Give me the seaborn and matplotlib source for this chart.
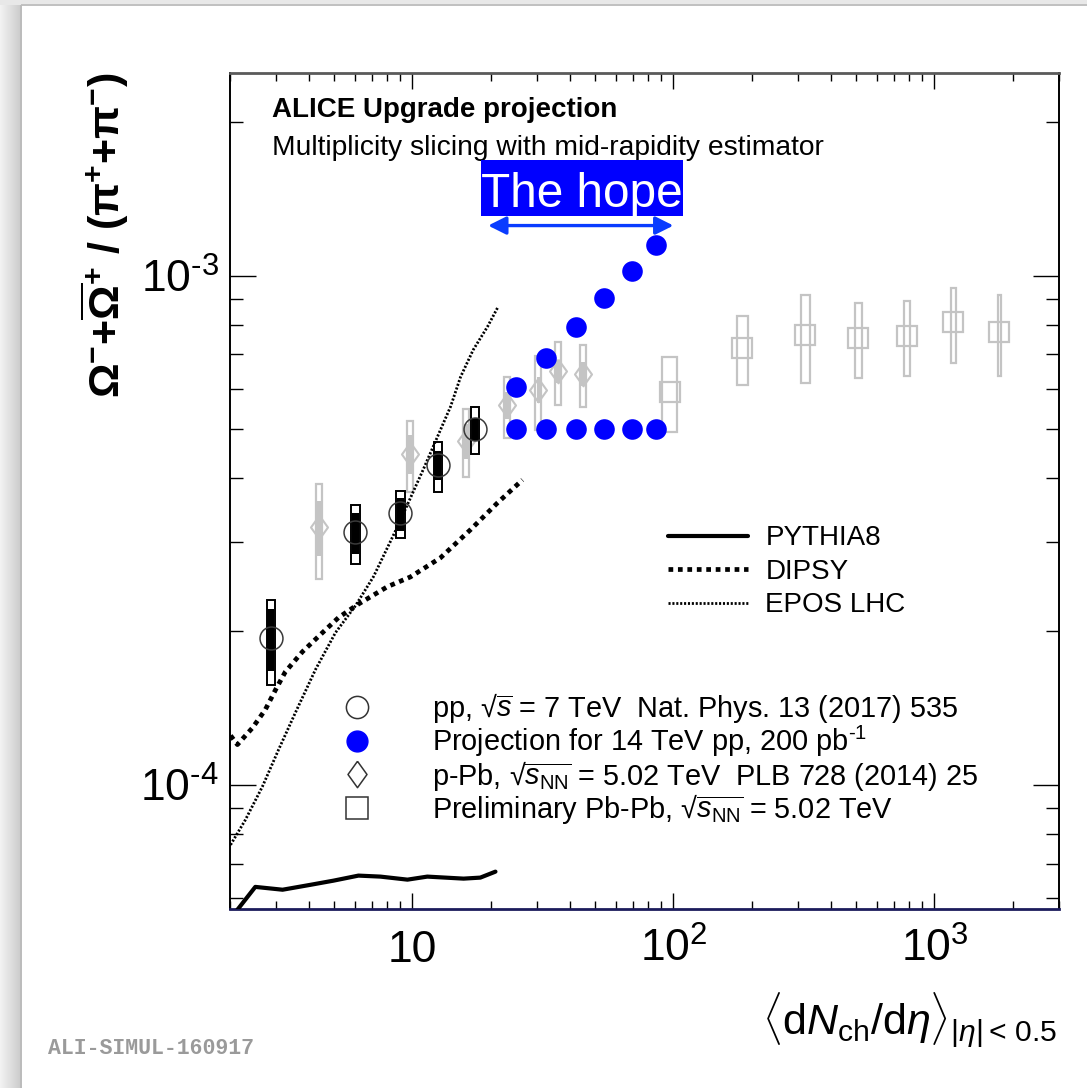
import numpy as np
import matplotlib
matplotlib.use("Agg")
import matplotlib.pyplot as plt
import matplotlib.transforms as mtransforms
from matplotlib.lines import Line2D
from matplotlib.patches import Rectangle
from matplotlib.ticker import LogLocator, NullFormatter
import seaborn as sns

# ---------------- data ----------------
# pp, sqrt(s) = 7 TeV (Nat. Phys. 13 (2017) 535)
pp_x = [2.86, 6.05, 9.0, 12.5, 17.4]
pp_y = [1.94e-4, 3.13e-4, 3.41e-4, 4.24e-4, 5.0e-4]
pp_stat = [0.27e-4, 0.29e-4, 0.255e-4, 0.275e-4, 0.26e-4]
pp_sys = [0.37e-4, 0.42e-4, 0.36e-4, 0.48e-4, 0.53e-4]

# p-Pb, sqrt(s_NN) = 5.02 TeV (PLB 728 (2014) 25)
ppb_x = [4.40, 9.8, 16.1, 23.1, 30.4, 36.2, 45.2]
ppb_y = [3.21e-4, 4.47e-4, 4.74e-4, 5.56e-4, 5.97e-4, 6.50e-4, 6.42e-4]
ppb_stat = [0.40e-4, 0.40e-4, 0.38e-4, 0.34e-4, 0.34e-4, 0.34e-4, 0.35e-4]
ppb_sys = [0.68e-4, 0.72e-4, 0.72e-4, 0.77e-4, 0.99e-4, 0.92e-4, 0.90e-4]

# Preliminary Pb-Pb, sqrt(s_NN) = 5.02 TeV
pbpb_x = [96.6, 183.6, 320.6, 511.0, 788.0, 1183.0, 1775.0]
pbpb_y = [5.92e-4, 7.22e-4, 7.66e-4, 7.55e-4, 7.62e-4, 8.09e-4, 7.76e-4]
pbpb_sys = [1.00e-4, 1.12e-4, 1.52e-4, 1.27e-4, 1.28e-4, 1.37e-4, 1.41e-4]
pbpb_dx = [6.2, 9.1, 13.0, 16.0, 21.0, 26.0, 24.0]

# Projection for 14 TeV pp, 200 pb^-1
proj_x = [25.0, 32.6, 42.4, 54.4, 69.1, 86.1]
proj_rising = [6.03e-4, 6.90e-4, 7.94e-4, 9.02e-4, 1.023e-3, 1.146e-3]
proj_flat = [5.0e-4, 5.0e-4, 5.0e-4, 5.0e-4, 5.0e-4, 5.0e-4]

# model curves
pythia_x = [2.06, 2.50, 3.18, 4.07, 4.98, 6.21, 7.54, 9.57, 11.4, 15.7, 18.2, 20.8]
pythia_y = [5.55e-5, 6.30e-5, 6.22e-5, 6.36e-5, 6.48e-5, 6.63e-5, 6.60e-5,
            6.51e-5, 6.60e-5, 6.54e-5, 6.57e-5, 6.75e-5]
dipsy_x = [2.01, 2.135, 2.44, 2.73, 2.99, 3.26, 3.79, 4.52, 5.21, 6.15, 8.02,
           9.83, 12.8, 16.7, 21.2, 26.4]
dipsy_y = [1.249e-4, 1.199e-4, 1.294e-4, 1.404e-4, 1.537e-4, 1.667e-4, 1.825e-4,
           1.989e-4, 2.13e-4, 2.257e-4, 2.449e-4, 2.56e-4, 2.79e-4, 3.17e-4,
           3.58e-4, 3.97e-4]
epos_x = [2.01, 2.29, 2.66, 3.07, 3.56, 4.25, 5.07, 6.05, 7.09, 8.76, 11.0,
          14.0, 15.3, 17.1, 19.4, 21.2]
epos_y = [7.62e-5, 8.53e-5, 9.91e-5, 1.172e-4, 1.385e-4, 1.683e-4, 1.989e-4,
          2.247e-4, 2.562e-4, 3.21e-4, 4.16e-4, 5.53e-4, 6.33e-4, 7.15e-4,
          7.94e-4, 8.65e-4]

# "The hope" range
hope_range = [19.5, 100.0]
hope_level = 1.254e-3

x_ticks = [10, 100, 1000]
x_ticklabels = ["10", r"$10^{2}$", r"$10^{3}$"]
y_ticks = [1e-4, 1e-3]
y_ticklabels = ["$10^{\u20104}$", "$10^{\u20103}$"]

model_labels = ["PYTHIA8", "DIPSY", "EPOS LHC"]
data_labels = [
    "pp, \u221a$\\overline{s}$ = 7 TeV  Nat. Phys. 13 (2017) 535",
    "Projection for 14 TeV pp, 200 pb$^{\u20101}$",
    "p-Pb, \u221a$\\overline{s_{\\mathrm{NN}}}$ = 5.02 TeV  PLB 728 (2014) 25",
    "Preliminary Pb-Pb, \u221a$\\overline{s_{\\mathrm{NN}}}$ = 5.02 TeV",
]

# ---------------- style ----------------
sns.set_theme(style="white")
plt.rcParams["font.family"] = ["Liberation Sans", "DejaVu Sans"]
plt.rcParams["mathtext.fontset"] = "custom"
plt.rcParams["mathtext.rm"] = "Liberation Sans"
plt.rcParams["mathtext.it"] = "Liberation Sans:italic"
plt.rcParams["mathtext.bf"] = "Liberation Sans:bold"
plt.rcParams["mathtext.sf"] = "Liberation Sans"
plt.rcParams["text.color"] = "black"

BLUE = "#0000ff"
ARROW_BLUE = "#0a3cff"
GREY = "#c4c4c4"
DIPSY_DASH = (0, (1.0, 1.0))
EPOS_DASH = (0, (0.75, 0.65))

fig = plt.figure(figsize=(10.87, 10.88), dpi=100)

# page background: white card with a soft grey margin on the left and top
H, W = 1088, 1087
bgimg = np.ones((H, W, 3))
left_w, top_h = 21, 5
shade = np.linspace(0.95, 0.80, left_w)
bgimg[:, :left_w, :] = shade[None, :, None]
bgimg[:top_h, :, :] = 0.91
bgimg[top_h - 1:top_h + 1, left_w:, :] = 0.76
bgimg[top_h:, left_w - 1:left_w + 1, :] = 0.74
bg = fig.add_axes([0, 0, 1, 1], zorder=-5)
bg.imshow(bgimg, aspect="auto", interpolation="bilinear")
bg.set_axis_off()

ax = fig.add_axes([0.2116, 0.1645, 0.7626, 0.7684])
ax.set_xscale("log")
ax.set_yscale("log")
ax.set_xlim(2.0, 3000)
ax.set_ylim(5.7e-5, 2.5e-3)
ax.set_facecolor("white")


def log_box(xc, half_dec):
    xc = np.asarray(xc, dtype=float)
    left = xc * 10 ** (-half_dec)
    return left, xc * 10 ** half_dec - left


# ---- Pb-Pb: systematic boxes + open squares ----
pbpb_xa = np.array(pbpb_x)
pbpb_ya = np.array(pbpb_y)
pbpb_sa = np.array(pbpb_sys)
pbpb_dxa = np.array(pbpb_dx)
ax.bar(pbpb_xa - pbpb_dxa, 2 * pbpb_sa, width=2 * pbpb_dxa, bottom=pbpb_ya - pbpb_sa,
       align="edge", fill=False, edgecolor=GREY, linewidth=1.6, zorder=2)
sns.lineplot(x=pbpb_x, y=pbpb_y, marker="s", linestyle="", markersize=15,
             markerfacecolor="none", markeredgecolor=GREY, markeredgewidth=1.6,
             color=GREY, ax=ax, legend=False, zorder=2)

# ---- p-Pb: boxes, stat bars, open diamonds ----
diamond = [(0, 1), (0.72, 0), (0, -1), (-0.72, 0), (0, 1)]
ppb_ya = np.array(ppb_y)
lft, wid = log_box(ppb_x, 0.0115)
ax.bar(lft, 2 * np.array(ppb_sys), width=wid, bottom=ppb_ya - np.array(ppb_sys),
       align="edge", fill=False, edgecolor=GREY, linewidth=1.6, zorder=2.5)
lft, wid = log_box(ppb_x, 0.0075)
ax.bar(lft, 2 * np.array(ppb_stat), width=wid, bottom=ppb_ya - np.array(ppb_stat),
       align="edge", color=GREY, linewidth=0, zorder=2.6)
sns.lineplot(x=ppb_x, y=ppb_y, marker=diamond, linestyle="", markersize=17,
             markerfacecolor="none", markeredgecolor=GREY, markeredgewidth=1.5,
             color=GREY, ax=ax, legend=False, zorder=2.7)

# ---- model curves ----
sns.lineplot(x=pythia_x, y=pythia_y, color="black", linewidth=3.0, ax=ax,
             legend=False, zorder=4)
sns.lineplot(x=dipsy_x, y=dipsy_y, color="black", linewidth=3.4,
             linestyle=DIPSY_DASH, ax=ax, legend=False, zorder=4)
sns.lineplot(x=epos_x, y=epos_y, color="black", linewidth=2.0,
             linestyle=EPOS_DASH, ax=ax, legend=False, zorder=4)

# ---- pp 7 TeV: boxes, stat bars, open circles ----
pp_ya = np.array(pp_y)
lft, wid = log_box(pp_x, 0.0155)
ax.bar(lft, 2 * np.array(pp_sys), width=wid, bottom=pp_ya - np.array(pp_sys),
       align="edge", fill=False, edgecolor="black", linewidth=1.4, zorder=4.5)
lft, wid = log_box(pp_x, 0.0125)
ax.bar(lft, 2 * np.array(pp_stat), width=wid, bottom=pp_ya - np.array(pp_stat),
       align="edge", color="black", linewidth=0, zorder=4.6)
sns.lineplot(x=pp_x, y=pp_y, marker="o", linestyle="", markersize=16.5,
             markerfacecolor="none", markeredgecolor="#3a3a3a", markeredgewidth=1.1,
             color="#3a3a3a", ax=ax, legend=False, zorder=4.7)

# ---- 14 TeV projection ----
sns.scatterplot(x=proj_x, y=proj_rising, color=BLUE, s=220, linewidth=0, ax=ax,
                legend=False, zorder=6)
sns.scatterplot(x=proj_x, y=proj_flat, color=BLUE, s=220, linewidth=0, ax=ax,
                legend=False, zorder=6)

# "The hope" arrow and tag
ax.annotate("", xy=(hope_range[1], hope_level), xytext=(hope_range[0], hope_level),
            arrowprops=dict(arrowstyle="<|-|>,head_length=0.4,head_width=0.2",
                            color=ARROW_BLUE, lw=2.4, mutation_scale=27,
                            shrinkA=0, shrinkB=0), zorder=7)
ax.add_patch(Rectangle((0.3028, 0.829), 0.2436, 0.067, transform=ax.transAxes,
                       facecolor=BLUE, edgecolor="none", zorder=7))
ax.text(0.4246, 0.8397, "The hope", transform=ax.transAxes, ha="center",
        va="baseline", color="white", fontsize=34.4, zorder=8)

# header texts
ax.text(0.0507, 0.947, "ALICE Upgrade projection", transform=ax.transAxes,
        fontsize=20, fontweight="bold", va="baseline", ha="left")
ax.text(0.0507, 0.902, "Multiplicity slicing with mid-rapidity estimator",
        transform=ax.transAxes, fontsize=20.3, va="baseline", ha="left")

# ---- axes, ticks ----
for side in ["left", "right"]:
    ax.spines[side].set_color("black")
    ax.spines[side].set_linewidth(1.4)
ax.spines["top"].set_color("#5a5a5a")
ax.spines["top"].set_linewidth(2.0)
ax.spines["bottom"].set_color("#1c1c5c")
ax.spines["bottom"].set_linewidth(2.0)

ax.set_xticks(x_ticks)
ax.set_xticklabels([])
ax.xaxis.set_minor_locator(LogLocator(base=10, subs=np.arange(2, 10), numticks=20))
ax.xaxis.set_minor_formatter(NullFormatter())
ax.set_yticks(y_ticks, labels=y_ticklabels)
ax.yaxis.set_minor_locator(LogLocator(base=10, subs=np.arange(2, 10), numticks=20))
ax.yaxis.set_minor_formatter(NullFormatter())
ax.tick_params(which="both", direction="in", bottom=True, left=True, top=True,
               right=True, color="black", width=1.0, labelcolor="black")
ax.tick_params(axis="x", which="major", length=11.5)
ax.tick_params(axis="x", which="minor", length=5.8)
ax.tick_params(axis="y", which="major", length=18.7, labelsize=32, pad=8)
ax.tick_params(axis="y", which="minor", length=9.4)

xlab_tr = mtransforms.blended_transform_factory(ax.transData, ax.transAxes)
for xv, lab in zip(x_ticks, x_ticklabels):
    ax.text(xv, -0.0634, lab, transform=xlab_tr, ha="center", va="baseline",
            fontsize=32)

# axis titles
ax.text(-0.1508, 0.806,
        r"$\mathbf{\Omega^{-}{+}\overline{\Omega}^{+}\ /\ (\pi^{+}{+}\pi^{-})}$",
        transform=ax.transAxes, rotation=90, ha="center", va="center", fontsize=31)
ax.text(0.9976, -0.097,
        r"$\langle\mathrm{d}N_{\mathrm{ch}}/\mathrm{d}\eta\rangle_{|\eta|<\,0.5}$",
        transform=ax.transAxes, ha="right", va="top", fontsize=31)

# ---- legend for the model curves ----
line_handles = [
    Line2D([], [], color="black", lw=3.0),
    Line2D([], [], color="black", lw=3.4, linestyle=DIPSY_DASH),
    Line2D([], [], color="black", lw=2.0, linestyle=EPOS_DASH),
]
leg1 = ax.legend(line_handles, model_labels, loc="upper left",
                 bbox_to_anchor=(0.528, 0.459), frameon=False, fontsize=20,
                 handlelength=2.9, handletextpad=0.62, labelspacing=0.27,
                 borderpad=0, borderaxespad=0)

# ---- key for the measurements (evenly spaced rows) ----
key_styles = [
    dict(marker="o", markersize=16, markerfacecolor="none",
         markeredgecolor="#333333", markeredgewidth=1.1),
    dict(marker="o", markersize=15, markerfacecolor=BLUE, markeredgecolor=BLUE),
    dict(marker=diamond, markersize=19, markerfacecolor="none",
         markeredgecolor="#333333", markeredgewidth=1.1),
    dict(marker="s", markersize=15.5, markerfacecolor="none",
         markeredgecolor="#333333", markeredgewidth=1.1),
]
key_x_marker, key_x_text = 0.1532, 0.2437
key_y0, key_dy, key_base = 0.2416, 0.0403, 0.0122
for i, (sty, lab) in enumerate(zip(key_styles, data_labels)):
    yc = key_y0 - i * key_dy
    ax.plot([key_x_marker], [yc], linestyle="", transform=ax.transAxes,
            clip_on=False, zorder=8, **sty)
    ax.text(key_x_text, yc - key_base, lab, transform=ax.transAxes, fontsize=20.8,
            ha="left", va="baseline", zorder=8)

fig.text(48 / 1087, 1 - 1048 / 1088, "ALI-SIMUL-160917", family="Liberation Mono",
         fontweight="bold", color="#9a9a9a", fontsize=15.5, va="center", ha="left")

fig.savefig("out.png", dpi=100)
